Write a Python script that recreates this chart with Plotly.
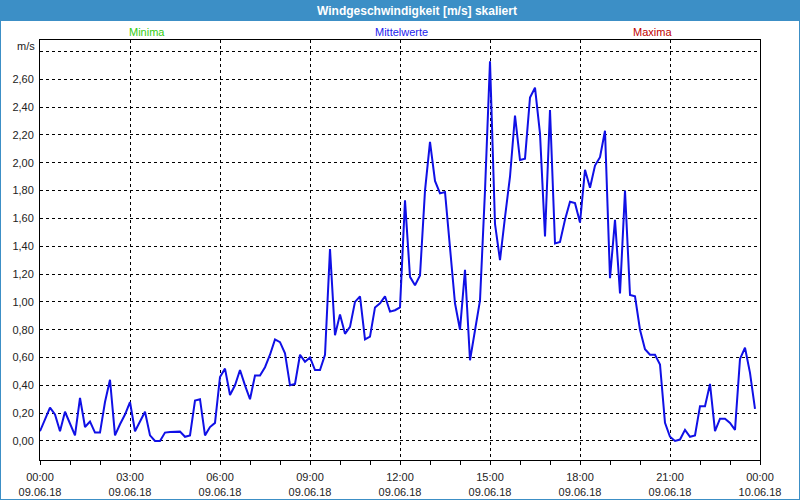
import plotly.graph_objects as go
import pandas as pd

# Wind speed (m/s), 10-minute values, 09.06.18 00:00 .. 23:50
speed = [
    0.07, 0.15, 0.24, 0.19, 0.07, 0.21, 0.13, 0.04, 0.31, 0.10,
    0.14, 0.06, 0.06, 0.28, 0.44, 0.04, 0.12, 0.19, 0.28, 0.07,
    0.14, 0.21, 0.04, 0.00, 0.00, 0.06, 0.065, 0.067, 0.067, 0.03,
    0.04, 0.29, 0.30, 0.04, 0.10, 0.13, 0.46, 0.52, 0.33, 0.40,
    0.51, 0.40, 0.30, 0.47, 0.47, 0.53, 0.62, 0.73, 0.71, 0.63,
    0.40, 0.41, 0.62, 0.57, 0.60, 0.51, 0.51, 0.62, 1.38, 0.76,
    0.91, 0.77, 0.82, 1.00, 1.04, 0.73, 0.75, 0.96, 0.99, 1.04,
    0.93, 0.94, 0.96, 1.73, 1.18, 1.12, 1.19, 1.80, 2.15, 1.87,
    1.78, 1.79, 1.40, 0.99, 0.80, 1.23, 0.58, 0.80, 1.01, 1.80,
    2.73, 1.56, 1.30, 1.61, 1.90, 2.34, 2.02, 2.03, 2.47, 2.54,
    2.21, 1.47, 2.38, 1.42, 1.43, 1.59, 1.72, 1.71, 1.57, 1.95,
    1.82, 1.98, 2.04, 2.23, 1.17, 1.59, 1.06, 1.80, 1.05, 1.04,
    0.80, 0.66, 0.62, 0.62, 0.55, 0.13, 0.03, 0.00, 0.01, 0.08,
    0.03, 0.04, 0.25, 0.25, 0.41, 0.07, 0.16, 0.16, 0.13, 0.08,
    0.59, 0.67, 0.49, 0.23,
]
start_time = "2018-06-09 00:00"
end_time = "2018-06-10 00:00"
times = pd.date_range(start_time, periods=len(speed), freq="10min")

y_ticks = [0.0, 0.2, 0.4, 0.6, 0.8, 1.0, 1.2, 1.4, 1.6, 1.8, 2.0, 2.2, 2.4, 2.6, 2.8]
y_ticktext = ["0,00", "0,20", "0,40", "0,60", "0,80", "1,00", "1,20", "1,40",
              "1,60", "1,80", "2,00", "2,20", "2,40", "2,60", ""]

title_text = "Windgeschwindigkeit [m/s] skaliert"
unit_text = "m/s"
series_labels = ["Minima", "Mittelwerte", "Maxima"]
series_colors = ["#33cc11", "#2222ee", "#c00000"]

FONT = "Liberation Sans, Arial, sans-serif"
BLUE_BAR = "#3c8fc6"

fig = go.Figure()
fig.add_trace(go.Scatter(
    x=times, y=speed, mode="lines",
    line=dict(color="#1010e6", width=2),
    showlegend=False,
))

W, H = 800, 500
L, R, T, B = 40, 40, 40, 40
pw, ph = W - L - R, H - T - B

def px(xp):
    return (xp - L) / pw

def py(yp):
    return (H - B - yp) / ph

fig.update_layout(
    width=W, height=H,
    margin=dict(l=L, r=R, t=T, b=B, autoexpand=False),
    paper_bgcolor="white",
    plot_bgcolor="white",
    font=dict(family=FONT, size=11, color="#222222"),
    showlegend=False,
)

fig.update_xaxes(
    range=[start_time, end_time],
    tickmode="linear", tick0=start_time, dtick=3 * 3600000,
    tickformat="%H:%M<br>%d.%m.%y",
    ticks="outside", ticklen=4, tickcolor="black",
    ticklabelstandoff=3, automargin=False,
    showgrid=True, gridcolor="black", griddash="3px,3px", gridwidth=1,
    minor=dict(dtick=3600000, ticks="outside", ticklen=4, tickcolor="black", showgrid=False),
    showline=True, linecolor="black", linewidth=1, mirror=True,
    zeroline=False,
    tickfont=dict(family=FONT, size=11, color="#222222"),
)
fig.update_yaxes(
    range=[-0.137, 2.883],
    tickmode="array", tickvals=y_ticks, ticktext=y_ticktext,
    ticks="", ticklabelstandoff=3, automargin=False,
    showgrid=True, gridcolor="black", griddash="3px,3px", gridwidth=1,
    showline=True, linecolor="black", linewidth=1, mirror=True,
    zeroline=False,
    tickfont=dict(family=FONT, size=11, color="#222222"),
)

# title bar and frame
fig.add_shape(type="rect", xref="paper", yref="paper",
              x0=px(0), x1=px(W), y0=py(21), y1=py(0),
              fillcolor=BLUE_BAR, line=dict(width=0), layer="above")
fig.add_shape(type="rect", xref="paper", yref="paper",
              x0=px(0), x1=px(W), y0=py(H), y1=py(0),
              fillcolor="rgba(0,0,0,0)", line=dict(color=BLUE_BAR, width=2), layer="above")

fig.add_annotation(text="<b>" + title_text + "</b>", xref="paper", yref="paper",
                   x=px(417), y=py(10.5), xanchor="center", yanchor="middle",
                   showarrow=False, font=dict(family=FONT, size=12, color="white"))

label_x = [147, 401, 652]
for lab, col, xc in zip(series_labels, series_colors, label_x):
    fig.add_annotation(text=lab, xref="paper", yref="paper",
                       x=px(xc), y=py(32), xanchor="center", yanchor="middle",
                       showarrow=False, font=dict(family=FONT, size=11, color=col))

fig.add_annotation(text=unit_text, xref="paper", yref="paper",
                   x=px(37), y=py(46.5), xanchor="right", yanchor="middle",
                   showarrow=False, font=dict(family=FONT, size=11, color="#222222"))

fig.write_html("out.html")
